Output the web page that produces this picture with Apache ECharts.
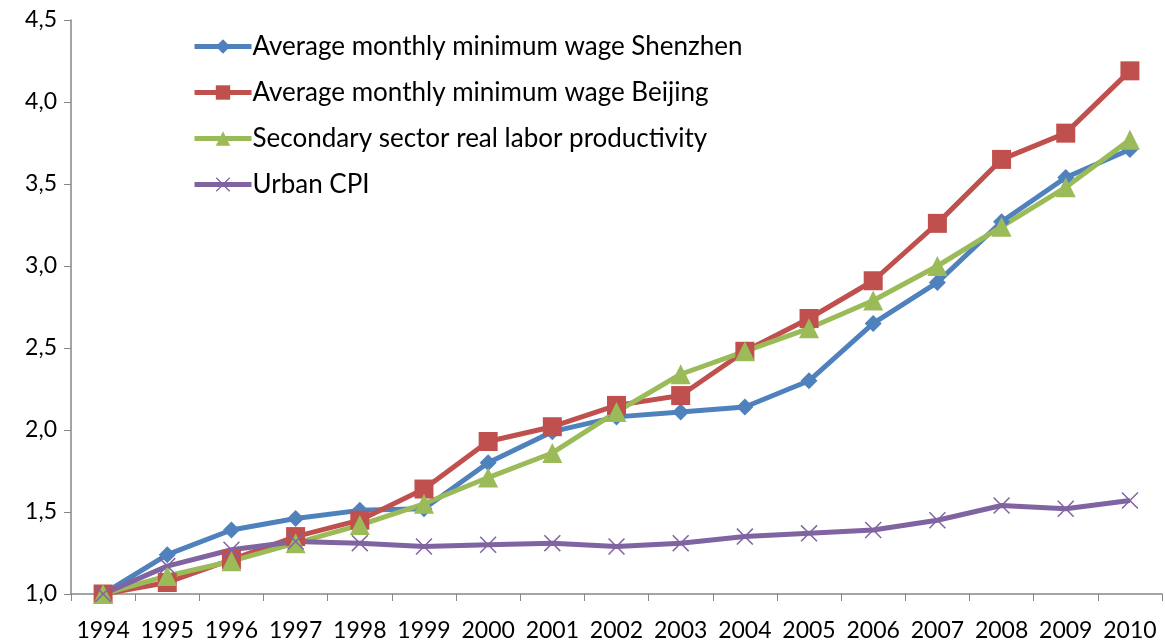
<!DOCTYPE html>
<html lang="en">
<head>
  <meta charset="UTF-8">
  <title>echarts</title>
  <style>
    * { margin: 0; padding: 0; }
    #main { width: 1165px; height: 642px; background: #fff; }
  </style>
</head>
<body>
  <div id="main"></div>
  <script src="https://cdn.jsdelivr.net/npm/echarts@6/dist/echarts.min.js"></script>
  <script>
    // data
    var years = ['1994','1995','1996','1997','1998','1999','2000','2001','2002','2003','2004','2005','2006','2007','2008','2009','2010'];
    var shenzhen = [1.0, 1.24, 1.39, 1.46, 1.51, 1.52, 1.80, 1.99, 2.08, 2.11, 2.14, 2.30, 2.65, 2.90, 3.27, 3.54, 3.71];
    var beijing = [1.0, 1.07, 1.21, 1.35, 1.45, 1.64, 1.93, 2.02, 2.15, 2.21, 2.48, 2.68, 2.91, 3.26, 3.65, 3.81, 4.19];
    var productivity = [1.0, 1.11, 1.20, 1.31, 1.42, 1.55, 1.71, 1.86, 2.11, 2.34, 2.48, 2.62, 2.79, 3.00, 3.24, 3.48, 3.77];
    var cpi = [1.0, 1.17, 1.27, 1.32, 1.31, 1.29, 1.30, 1.31, 1.29, 1.31, 1.35, 1.37, 1.39, 1.45, 1.54, 1.52, 1.57];

    var font = 'Lato, "Open Sans", sans-serif';
    var crossPath = 'path://M0,1L1,0L8,7L15,0L16,1L9,8L16,15L15,16L8,9L1,16L0,15L7,8Z';

    var myCharts = echarts.init(document.getElementById('main'));

    function line(name, data, color, symbol, size) {
      return {
        name: name,
        type: 'line',
        data: data,
        symbol: symbol,
        symbolSize: size,
        showAllSymbol: true,
        lineStyle: { color: color, width: 5 },
        itemStyle: { color: color },
        emphasis: { disabled: true }
      };
    }

    var option = {
      animation: false,
      textStyle: { fontFamily: font },
      grid: { left: 71, right: 3, top: 20, bottom: 46 },
      legend: {
        orient: 'vertical',
        left: 187,
        top: 28,
        itemWidth: 57,
        itemHeight: 18,
        itemGap: 19,
        lineStyle: { width: 5 },
        textStyle: { fontSize: 26, lineHeight: 27, color: '#000', fontFamily: font, padding: [0, 0, 0, -4] },
        data: [
          'Average monthly minimum wage Shenzhen',
          'Average monthly minimum wage Beijing',
          'Secondary sector real labor productivity',
          'Urban CPI'
        ]
      },
      xAxis: {
        type: 'category',
        data: years,
        boundaryGap: true,
        axisLine: { lineStyle: { color: '#868686', width: 1.5 } },
        axisTick: { show: true, length: 7, lineStyle: { color: '#868686' } },
        axisLabel: { fontSize: 23, color: '#000', margin: 25, interval: 0, fontFamily: font },
        splitLine: { show: false }
      },
      yAxis: {
        type: 'value',
        min: 1.0,
        max: 4.5,
        interval: 0.5,
        axisLine: { show: true, lineStyle: { color: '#868686', width: 1.5 } },
        axisTick: { show: true, length: 7, lineStyle: { color: '#868686' } },
        axisLabel: {
          fontSize: 23, color: '#000', margin: 14, fontFamily: font,
          formatter: function (v) { return v.toFixed(1).replace('.', ','); }
        },
        splitLine: { show: false }
      },
      series: [
        line('Average monthly minimum wage Shenzhen', shenzhen, '#4F81BD', 'diamond', 17),
        line('Average monthly minimum wage Beijing', beijing, '#C0504D', 'rect', 19),
        line('Secondary sector real labor productivity', productivity, '#9BBB59', 'triangle', 20),
        line('Urban CPI', cpi, '#8064A2', crossPath, 17)
      ]
    };
    myCharts.setOption(option);
  </script>
</body>
</html>
